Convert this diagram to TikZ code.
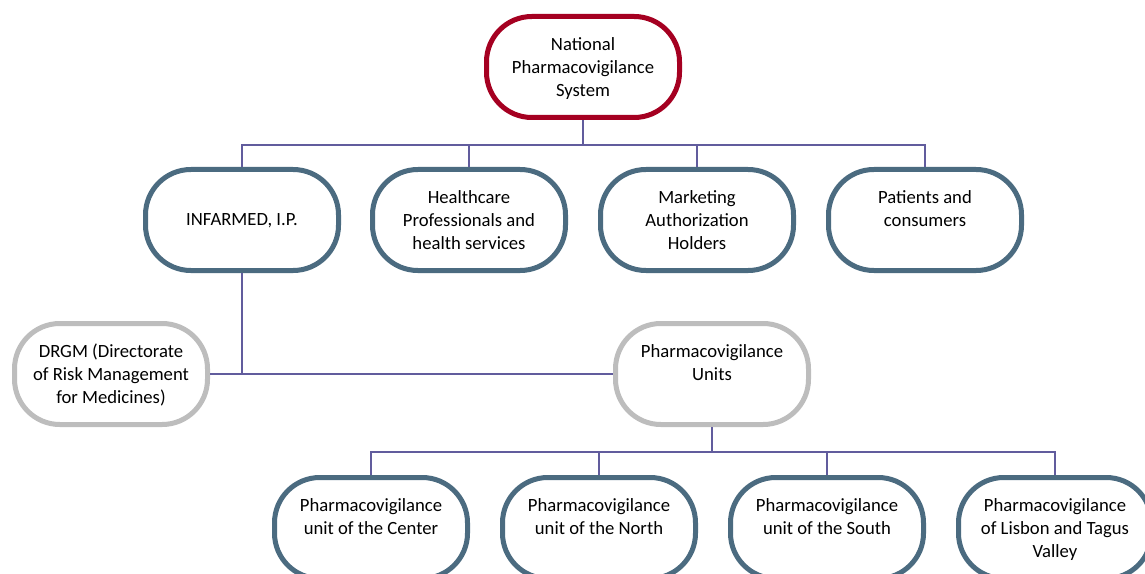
\documentclass[tikz,border=0pt]{standalone}
\usepackage{fontspec}
\setmainfont{Carlito}
\definecolor{sysred}{HTML}{A50021}
\definecolor{orgblue}{HTML}{4B6B80}
\definecolor{orggray}{HTML}{BDBDBD}
\definecolor{linkline}{HTML}{615C9D}

\begin{document}
\begin{tikzpicture}[x=0.75pt,y=-0.75pt,
    box/.style={draw=orgblue, fill=white, line width=3.75pt, rounded corners=34pt,
      minimum width=144.75pt, minimum height=75.75pt, align=center,
      font=\fontsize{14pt}{17.25pt}\selectfont, text depth=-6pt},
    topbox/.style={box, draw=sysred},
    sidebox/.style={box, draw=orggray},
    conn/.style={draw=linkline, line width=1.1pt}]
        \useasboundingbox (0,0) rectangle (1145,574);
        \clip (0,0) rectangle (1145,574);
        \node[topbox] (nps) at (583,67) {National\\Pharmacovigilance\\System};
        \node[box] (inf) at (242,220) {INFARMED, I.P.};
        \node[box] (hc) at (469,220) {Healthcare\\Professionals and\\health services};
        \node[box] (mah) at (697,220) {Marketing\\Authorization\\Holders};
        \node[box] (pat) at (925,220) {Patients and\\consumers\\~};
        \node[sidebox] (drgm) at (111,374) {DRGM (Directorate\\of Risk Management\\for Medicines)};
        \node[sidebox] (pvu) at (712,374) {Pharmacovigilance\\Units\\~};
        \node[box] (pvc) at (371,528) {Pharmacovigilance\\unit of the Center\\~};
        \node[box] (pvn) at (599,528) {Pharmacovigilance\\unit of the North\\~};
        \node[box] (pvs) at (827,528) {Pharmacovigilance\\unit of the South\\~};
        \node[box] (pvl) at (1055,528) {Pharmacovigilance\\of Lisbon and Tagus\\Valley};
        \coordinate (bus1) at (583,145);
        \coordinate (bus2) at (712,452);
        \draw[conn] (nps.south) -- (bus1);
        \foreach \n in {inf,hc,mah,pat}
            \draw[conn] (bus1) -| (\n.north);
        \draw[conn] (inf.south) -- (inf.south |- drgm.east);
        \draw[conn] (drgm.east) -- (pvu.west);
        \draw[conn] (pvu.south) -- (bus2);
        \foreach \n in {pvc,pvn,pvs,pvl}
            \draw[conn] (bus2) -| (\n.north);
\end{tikzpicture}
\end{document}
